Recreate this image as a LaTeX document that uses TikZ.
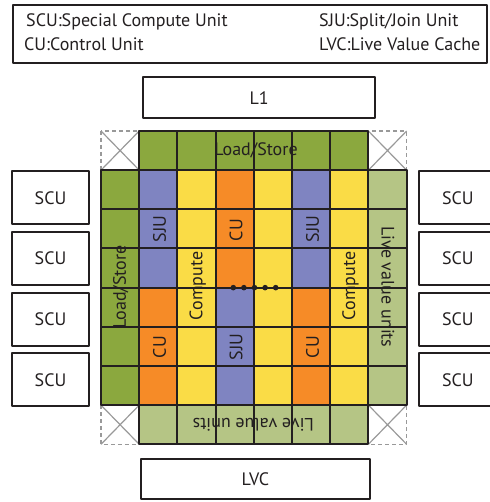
\documentclass[tikz,border=0pt]{standalone}
\usepackage{fontspec}
\setmainfont{PT Sans}
\definecolor{lsgreen}{RGB}{139,168,62}
\definecolor{lvgreen}{RGB}{181,197,133}
\definecolor{sjublue}{RGB}{127,132,193}
\definecolor{cuorange}{RGB}{246,139,39}
\definecolor{cyellow}{RGB}{250,220,70}
\definecolor{txt}{RGB}{35,31,32}
\tikzset{
  box/.style={draw=txt, line width=2pt, fill=white, text=txt},
  cell/.style={draw=txt, line width=2pt},
  corner/.style={draw=black!40, line width=1.5pt, dash pattern=on 4pt off 3pt},
  cross/.style={draw=black!40, line width=1.2pt},
  lbl/.style={text=txt, inner sep=0pt}
}
\begin{document}
\begin{tikzpicture}[x=1pt, y=-1pt, font=\fontsize{18}{21}\selectfont, line join=round]
		\useasboundingbox (0,0) rectangle (489,502);
		\def\gx{101} \def\gy{131} \def\cw{38.2} \def\ch{39.16} % grid
		% legend
		\draw[box] (13.3,5) rectangle (487,62.7);
		\node[lbl, anchor=base west] (scu) at (26,26.7) {SCU:Special Compute Unit};
		\node[lbl, anchor=base west] (cu) at (24,51) {CU:Control Unit};
		\node[lbl, anchor=base west] (sju) at (319,26.7) {SJU:Split/Join Unit};
		\node[lbl, anchor=base west] (lvc) at (319,51) {LVC:Live Value Cache};
		% L1 and LVC
		\node[box, minimum width=231.7pt, minimum height=41pt] (lone) at (259.2,97.8) {L1};
		\node[box, minimum width=229.3pt, minimum height=40pt] (lvcbox) at (255.3,479.3) {LVC};
		% SCU boxes
		\foreach \k in {0,...,3} {
			\node[box, minimum width=77.6pt, minimum height=53pt] (scul\k) at (50.5,{197.8+\k*60.7}) {SCU};
			\node[box, minimum width=77.6pt, minimum height=53pt] (scur\k) at (457.8,{197.8+\k*60.7}) {SCU};
		}
		% corners
		\foreach \i/\j in {0/0,7/0,0/7,7/7} {
			\draw[corner] ({\gx+\i*\cw},{\gy+\j*\ch}) rectangle ++(\cw,\ch);
			\draw[cross] ({\gx+\i*\cw},{\gy+\j*\ch}) -- ++(\cw,\ch) ++(0,-\ch) -- ++(-\cw,\ch);
		}
		% load/store and live value units
		\foreach \i in {1,...,6} {
			\draw[cell, fill=lsgreen] ({\gx+\i*\cw},\gy) rectangle ++(\cw,\ch);
			\draw[cell, fill=lvgreen] ({\gx+\i*\cw},{\gy+7*\ch}) rectangle ++(\cw,\ch);
			\draw[cell, fill=lsgreen] (\gx,{\gy+\i*\ch}) rectangle ++(\cw,\ch);
			\draw[cell, fill=lvgreen] ({\gx+7*\cw},{\gy+\i*\ch}) rectangle ++(\cw,\ch);
		}
		% compute array
		\foreach \i/\ca/\cb in {1/sjublue/cuorange, 2/cyellow/cyellow, 3/cuorange/sjublue, 4/cyellow/cyellow, 5/sjublue/cuorange, 6/cyellow/cyellow}
			\foreach \j in {1,2,3} {
				\draw[cell, fill=\ca] ({\gx+\i*\cw},{\gy+\j*\ch}) rectangle ++(\cw,\ch);
				\draw[cell, fill=\cb] ({\gx+\i*\cw},{\gy+(\j+3)*\ch}) rectangle ++(\cw,\ch);
			}
		% labels
		\node[lbl] (lstop) at (256,{\gy+0.5*\ch}) {Load/Store};
		\node[lbl, rotate=90] (lsleft) at (120.8,287) {Load/Store};
		\node[lbl, rotate=-90] (lvright) at (388,287) {Live value units};
		\node[lbl, rotate=180] (lvbottom) at (253.3,425) {Live value units};
		\node[lbl, rotate=90] (compa) at (197.7,286) {Compute};
		\node[lbl, rotate=90] (compb) at (350.5,286) {Compute};
		\node[lbl, rotate=90] (sjua) at (159.5,229) {SJU};
		\node[lbl, rotate=90] (sjub) at (312.5,229) {SJU};
		\node[lbl, rotate=90] (sjuc) at (236,347) {SJU};
		\node[lbl, rotate=90] (cua) at (236,230) {CU};
		\node[lbl, rotate=90] (cub) at (159.5,347) {CU};
		\node[lbl, rotate=90] (cuc) at (312.5,347) {CU};
		% dots
		\foreach \k in {0,...,4}
			\fill[txt] ({233.3+\k*10.6},{\gy+4*\ch}) circle (2.8pt);
		\end{tikzpicture}
\end{document}
